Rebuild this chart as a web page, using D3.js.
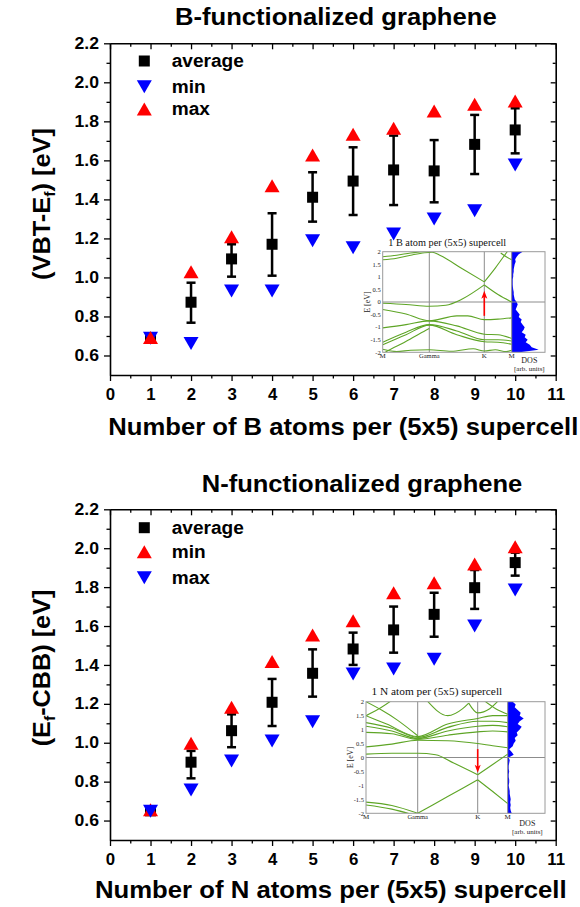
<!DOCTYPE html>
<html><head><meta charset="utf-8">
<script src="https://cdn.jsdelivr.net/npm/d3@7"></script>
<style>body{margin:0;background:#fff} svg{display:block}</style>
</head><body><svg id="c" width="580" height="907"></svg>
<script>
// ---------------- data ----------------
const atoms = [1,2,3,4,5,6,7,8,9,10];
const xTickVals = [0,1,2,3,4,5,6,7,8,9,10,11];
const yTickVals = [0.6,0.8,1.0,1.2,1.4,1.6,1.8,2.0,2.2];

const bAvg   = [0.69,0.873,1.095,1.170,1.411,1.494,1.551,1.546,1.682,1.756];
const bErrLo = [0.69,0.768,1.004,1.009,1.286,1.320,1.371,1.385,1.530,1.636];
const bErrHi = [0.69,0.973,1.170,1.329,1.539,1.667,1.727,1.704,1.833,1.867];
const bMin   = [0.688,0.662,0.930,0.930,1.188,1.152,1.223,1.300,1.342,1.576];
const bMax   = [0.692,1.029,1.209,1.470,1.628,1.734,1.764,1.853,1.887,1.904];

const nAvg   = [0.65,0.900,1.062,1.208,1.357,1.482,1.580,1.660,1.797,1.926];
const nErrLo = [0.65,0.817,0.977,1.086,1.237,1.400,1.463,1.545,1.688,1.859];
const nErrHi = [0.65,0.958,1.146,1.328,1.480,1.566,1.700,1.771,1.888,1.977];
const nMin   = [0.655,0.997,1.182,1.417,1.554,1.627,1.771,1.823,1.919,2.008];
const nMax   = [0.648,0.757,0.906,1.009,1.108,1.353,1.379,1.429,1.600,1.785];

// inset: band structures, path M(0) - Gamma(1) - K(2) - M(3), energies in eV
const kLabels = ["M","Gamma","K","M"];
const eTicks = [-2,-1.5,-1,-0.5,0,0.5,1,1.5,2];
const bBands = [
  [[0,1.80],[0.3,1.86],[0.6,1.95],[1,2.03],[1.1,2.05]],
  [[0,1.68],[0.3,1.74],[0.6,1.86],[0.9,1.96],[1.05,1.98],[1.2,1.85],[1.6,1.32],[2,0.80]],
  [[2,0.80],[2.4,1.35],[2.8,1.95],[2.9,2.1]],
  [[0,-0.05],[0.5,-0.10],[1,-0.17],[1.3,-0.13],[1.6,0.12],[2,0.68]],
  [[2,0.68],[2.5,0.30],[3,0.0]],
  [[0,-0.30],[0.5,-0.48],[1,-0.75],[1.5,-0.55],[1.7,-0.55],[2,-0.70],[2.5,-0.68],[3,-0.63]],
  [[0,-1.03],[0.5,-0.90],[1,-0.75],[1.5,-0.95],[2,-1.28],[2.5,-1.30],[3,-1.45]],
  [[0,-1.60],[0.5,-1.20],[1,-0.90],[1.5,-1.15],[2,-1.50],[2.5,-1.50],[3,-1.55]],
  [[0,-1.70],[0.5,-1.30],[1,-0.92],[1.5,-1.30],[2,-1.58],[2.5,-1.60],[3,-1.68]],
  [[0,-1.88],[0.3,-1.97],[0.6,-1.92],[1,-1.90],[1.4,-1.96],[1.8,-1.86],[2,-1.95],[2.4,-1.90],[2.8,-1.97],[3,-1.92]],
  [[0,-2.05],[0.2,-1.85],[0.45,-1.62],[0.8,-1.25],[1,-1.05]],
  [[2.6,1.95],[2.8,1.8],[3,1.68]]
];
const nBands = [
  [[0,0.12],[0.5,0.15],[1,0.15],[1.3,0.10],[1.6,-0.20],[2,-0.62]],
  [[2,-0.62],[2.5,-0.25],[3,0.12]],
  [[1,-2.0],[1.5,-1.4],[2,-0.80]],
  [[2,-0.80],[2.5,-1.22],[3,-1.65]],
  [[0,-1.60],[0.5,-1.72],[1,-2.0]],
  [[0,-1.70],[0.5,-1.85],[0.9,-2.05]],
  [[0,0.38],[0.5,0.48],[1,0.62],[1.5,0.60],[2,0.50],[2.5,0.42],[3,0.35]],
  [[0,0.90],[0.5,0.85],[1,0.65],[1.5,0.80],[2,0.92],[2.5,0.95],[3,0.92]],
  [[0,1.12],[0.5,0.95],[1,0.68],[1.5,0.95],[2,1.12],[2.5,1.15],[3,1.10]],
  [[0,1.25],[0.5,1.05],[1,0.72],[1.5,1.08],[2,1.30],[2.5,1.30],[3,1.25]],
  [[0,1.50],[0.4,1.20],[1,0.75],[1.5,1.20],[2,1.40],[2.5,1.50],[3,1.50]],
  [[0,1.50],[0.3,1.80],[0.5,2.05]],
  [[0,2.0],[0.3,1.70],[0.6,1.35],[1,0.78]],
  [[1.15,2.05],[1.5,1.50],[1.75,1.75],[1.85,1.95]],
  [[1.85,1.95],[2,1.60],[2.4,1.75],[2.7,2.05]],
  [[2.2,2.05],[2.6,1.75],[3,1.55]]
];
const dosE = [2,1.9,1.8,1.7,1.6,1.5,1.4,1.3,1.2,1.1,1,0.9,0.8,0.7,0.6,0.5,0.4,0.3,0.2,0.1,0,
  -0.1,-0.2,-0.3,-0.4,-0.5,-0.6,-0.7,-0.8,-0.9,-1,-1.1,-1.2,-1.3,-1.4,-1.5,-1.6,-1.7,-1.8,-1.9,-2];
const bDos = [11,7,5,3.5,4,3,2.5,2,2,1.5,1.5,1,1,1,1.2,1.5,2,2,2.5,3,5,
  6,5,4,6,8,7,10,9,11,13,12,10,14,13,16,14,18,20,27,8];
const nDos = [5,8,7,10,13,12,16,12,10,14,12,9,10,7,8,6,5,1.5,4,6,1,
  2,1.5,1,1,1.5,1,1,1.5,1.5,1,1.5,2,2,2.5,3,2.5,3,2.5,3,4];
const bArrow = [-0.55,0.45];
const nArrow = [0.30,-0.55];

// ---------------- drawing ----------------
const svg = d3.select("#c");
const FONT = "'Liberation Sans', Arial, Helvetica, sans-serif";
const SERIF = "'Liberation Serif', 'Times New Roman', serif";
const RED = "#ff0000", BLUE = "#0000ff";

function stretch(sel, f){
  sel.each(function(){
    const L = this.getComputedTextLength();
    d3.select(this).attr("textLength", L*f).attr("lengthAdjust","spacingAndGlyphs");
  });
}
function fit(sel, w){ sel.attr("textLength", w).attr("lengthAdjust","spacingAndGlyphs"); }

function upTri(cx, cy, w, h){ return `M${cx},${cy-h/2}L${cx+w/2},${cy+h/2}L${cx-w/2},${cy+h/2}Z`; }
function downTri(cx, cy, w, h){ return `M${cx-w/2},${cy-h/2}L${cx+w/2},${cy-h/2}L${cx},${cy+h/2}Z`; }

function panel(c){
  const x = d3.scaleLinear().domain([0,11]).range([c.left, c.right]);
  const y = d3.scaleLinear().domain([0.5,2.2]).range([c.bottom, c.top]);
  const g = svg.append("g");
  const minorY = d3.range(0.7, 2.15, 0.2);
  const minorX = d3.range(0.5, 11, 1);

  const styleAxis = (ax) => {
    ax.selectAll("path.domain").attr("stroke","#000").attr("stroke-width",1.6);
    ax.selectAll(".tick line").attr("stroke","#000").attr("stroke-width",1.3);
    ax.selectAll("text").attr("fill","#000").attr("font-family",FONT).attr("font-weight","bold").attr("font-size",16);
  };
  // left
  const la = g.append("g").attr("transform",`translate(${c.left},0)`)
    .call(d3.axisLeft(y).tickValues(yTickVals).tickSize(6).tickSizeOuter(0).tickPadding(5).tickFormat(d3.format(".1f")));
  styleAxis(la); stretch(la.selectAll("text"), 1.1);
  const lm = g.append("g").attr("transform",`translate(${c.left},0)`)
    .call(d3.axisLeft(y).tickValues(minorY).tickSize(3.5).tickFormat(""));
  lm.select(".domain").remove(); styleAxis(lm);
  // right
  const ra = g.append("g").attr("transform",`translate(${c.right},0)`)
    .call(d3.axisRight(y).tickValues(yTickVals).tickSize(-5).tickSizeOuter(0).tickFormat(""));
  styleAxis(ra);
  const rm = g.append("g").attr("transform",`translate(${c.right},0)`)
    .call(d3.axisRight(y).tickValues(minorY).tickSize(-3).tickFormat(""));
  rm.select(".domain").remove(); styleAxis(rm);
  // top
  const ta = g.append("g").attr("transform",`translate(0,${c.top})`)
    .call(d3.axisTop(x).tickValues(xTickVals).tickSize(-6).tickSizeOuter(0).tickFormat(""));
  styleAxis(ta);
  const tm = g.append("g").attr("transform",`translate(0,${c.top})`)
    .call(d3.axisTop(x).tickValues(minorX).tickSize(-3.5).tickFormat(""));
  tm.select(".domain").remove(); styleAxis(tm);
  // bottom
  const ba = g.append("g").attr("transform",`translate(0,${c.bottom})`)
    .call(d3.axisBottom(x).tickValues(xTickVals).tickSize(6).tickSizeOuter(0).tickPadding(7.5).tickFormat(d3.format("d")));
  styleAxis(ba); stretch(ba.selectAll("text"), 1.05);
  const bm = g.append("g").attr("transform",`translate(0,${c.bottom})`)
    .call(d3.axisBottom(x).tickValues(minorX).tickSize(3.5).tickFormat(""));
  bm.select(".domain").remove(); styleAxis(bm);

  // title
  fit(g.append("text").attr("x",c.titleX).attr("y",c.titleY).attr("text-anchor","middle")
    .attr("font-family",FONT).attr("font-weight","bold").attr("font-size",23).text(c.title), c.titleW);
  // x title
  fit(g.append("text").attr("x",c.xTitleX).attr("y",c.xTitleY).attr("text-anchor","middle")
    .attr("font-family",FONT).attr("font-weight","bold").attr("font-size",24).text(c.xTitle), c.xTitleW);
  // y title
  const yt = g.append("text").attr("transform",`translate(50,${c.yTitleY}) rotate(-90)`).attr("text-anchor","middle")
    .attr("font-family",FONT).attr("font-weight","bold").attr("font-size",24);
  c.yTitle.forEach(p => {
    const ts = yt.append("tspan").text(p.t);
    if (p.sub) ts.attr("font-size",15).attr("dy","0.3em");
    if (p.after) ts.attr("dy","-0.2em");
  });
  fit(yt, c.yTitleW);

  // error bars
  const eb = g.append("g").attr("stroke","#000").attr("stroke-width",2.5);
  atoms.forEach((a,i) => {
    const cx = x(a), y0 = y(c.lo[i]), y1 = y(c.hi[i]);
    if (Math.abs(y0-y1) < 1) return;
    eb.append("line").attr("x1",cx).attr("x2",cx).attr("y1",y0).attr("y2",y1);
    eb.append("line").attr("x1",cx-4.5).attr("x2",cx+4.5).attr("y1",y0).attr("y2",y0);
    eb.append("line").attr("x1",cx-4.5).attr("x2",cx+4.5).attr("y1",y1).attr("y2",y1);
  });
  // markers
  const drawSeries = (s) => {
    if (s.shape === "sq") {
      g.append("g").selectAll("rect").data(s.vals).join("rect")
        .attr("x",(d,i)=>x(atoms[i])-5.5).attr("y",d=>y(d)-5.5).attr("width",11).attr("height",11).attr("fill","#000");
    } else {
      g.append("g").selectAll("path").data(s.vals).join("path")
        .attr("d",(d,i)=> s.shape==="up" ? upTri(x(atoms[i]),y(d),15,13) : downTri(x(atoms[i]),y(d),15,13))
        .attr("fill",s.color);
    }
  };
  c.series.forEach(drawSeries);

  // legend
  const lg = g.append("g");
  c.series.forEach((s,i) => {
    const ly = c.legY + c.legDy[i];
    const lx = 144.3;
    if (s.shape==="sq") lg.append("rect").attr("x",lx-5.5).attr("y",ly-5.5).attr("width",11).attr("height",11).attr("fill","#000");
    else lg.append("path").attr("d", s.shape==="up" ? upTri(lx,ly,15,13) : downTri(lx,ly,15,13)).attr("fill",s.color);
    const t = lg.append("text").attr("x",171.7).attr("y",ly).attr("dy","0.36em")
      .attr("font-family",FONT).attr("font-weight","bold").attr("font-size",18).text(s.name);
    stretch(t, 1.06);
  });
}

function inset(c){
  const g = svg.append("g");
  const kx = d3.scaleLinear().domain([0,1,2,3]).range(c.kx);
  const ey = d3.scaleLinear().domain([-2,2]).range([c.B, c.T]);
  const dx = d3.scaleLinear().domain([0,c.dosMax]).range([c.kx[3], c.R]);
  g.append("rect").attr("x",c.L).attr("y",c.T).attr("width",c.R-c.L).attr("height",c.B-c.T).attr("fill","#fff");
  const cid = c.id + "-clip";
  svg.append("clipPath").attr("id",cid).append("rect")
    .attr("x",c.L).attr("y",c.T).attr("width",c.kx[3]-c.L).attr("height",c.B-c.T);
  // DOS
  const area = d3.area().y(d=>ey(d[0])).x0(dx(0)).x1(d=>dx(d[1])).curve(d3.curveLinear);
  g.append("path").datum(dosE.map((e,i)=>[e,c.dos[i]])).attr("d",area).attr("fill",BLUE);
  // grid
  g.append("line").attr("x1",c.L).attr("x2",c.R).attr("y1",ey(0)).attr("y2",ey(0)).attr("stroke","#8c8c8c").attr("stroke-width",1);
  [1,2,3].forEach(k => g.append("line").attr("x1",kx(k)).attr("x2",kx(k)).attr("y1",c.T).attr("y2",c.B)
    .attr("stroke","#8c8c8c").attr("stroke-width",1));
  // bands
  const line = d3.line().x(d=>kx(d[0])).y(d=>ey(d[1])).curve(d3.curveMonotoneX);
  g.append("g").attr("clip-path",`url(#${cid})`).selectAll("path").data(c.bands).join("path")
    .attr("d",line).attr("fill","none").attr("stroke","#5ea526").attr("stroke-width",1.1);
  // frame
  g.append("rect").attr("x",c.L).attr("y",c.T).attr("width",c.R-c.L).attr("height",c.B-c.T)
    .attr("fill","none").attr("stroke","#9a9a9a").attr("stroke-width",1);
  // arrow
  const ax = kx(2), a0 = ey(c.arrow[0]), a1 = ey(c.arrow[1]);
  const dir = a1 < a0 ? 1 : -1;
  g.append("line").attr("x1",ax).attr("x2",ax).attr("y1",a0).attr("y2",a1 + dir*5).attr("stroke",RED).attr("stroke-width",1.6);
  g.append("path").attr("d",`M${ax},${a1}L${ax+3},${a1+dir*8}L${ax},${a1+dir*6}L${ax-3},${a1+dir*8}Z`).attr("fill",RED);
  // energy tick labels
  const tl = g.append("g").attr("font-family",SERIF).attr("font-size",6.5).attr("fill","#222");
  eTicks.forEach(e => tl.append("text").attr("x",c.L-2).attr("y",ey(e)).attr("dy","0.35em").attr("text-anchor","end").text(String(e)));
  tl.append("text").attr("transform",`translate(${c.L-13},${ey(0)}) rotate(-90)`).attr("text-anchor","middle")
    .attr("font-size",8).text("E [eV]");
  kLabels.forEach((lab,i) => tl.append("text").attr("x",kx(i)).attr("y",c.B+6).attr("text-anchor","middle")
    .attr("font-size",lab==="Gamma"?6.5:7).text(lab));
  const dc = (c.kx[3]+c.R)/2 + 1;
  tl.append("text").attr("x",dc).attr("y",c.dosY).attr("text-anchor","middle").attr("font-size",8).text("DOS");
  tl.append("text").attr("x",dc).attr("y",c.dosY+8).attr("text-anchor","middle").attr("font-size",7).text("[arb. units]");
  // title
  fit(g.append("text").attr("x",(c.L+c.kx[3])/2).attr("y",c.titleY).attr("text-anchor","middle")
    .attr("font-family",SERIF).attr("font-size",11).attr("fill","#111").text(c.title), c.titleW);
}

panel({
  left:110, right:555.7, top:43.3, bottom:375,
  title:"B-functionalized graphene", titleX:335.8, titleY:25, titleW:321.7,
  xTitle:"Number of B atoms per (5x5) supercell", xTitleX:343.3, xTitleY:435, xTitleW:470,
  yTitle:[{t:"(VBT-E"},{t:"f",sub:true},{t:") [eV]",after:true}], yTitleY:204, yTitleW:152,
  lo:bErrLo, hi:bErrHi,
  series:[{name:"average",shape:"sq",vals:bAvg},{name:"min",shape:"down",color:BLUE,vals:bMin},{name:"max",shape:"up",color:RED,vals:bMax}],
  legY:61, legDy:[0,25.7,48]
});
inset({
  id:"ib", L:382.7, R:545, T:251.7, B:352.3, kx:[382.7,429.3,484.3,511.7], dosMax:33.3,
  bands:bBands, dos:bDos, arrow:bArrow, dosY:363.3,
  title:"1 B atom per (5x5) supercell", titleY:245.7, titleW:118
});

panel({
  left:110, right:555.7, top:509.3, bottom:840,
  title:"N-functionalized graphene", titleX:362, titleY:491.7, titleW:320.6,
  xTitle:"Number of N atoms per (5x5) supercell", xTitleX:330.8, xTitleY:898.3, xTitleW:471.7,
  yTitle:[{t:"(E"},{t:"f",sub:true},{t:"-CBB) [eV]",after:true}], yTitleY:668, yTitleW:156.7,
  lo:nErrLo, hi:nErrHi,
  series:[{name:"average",shape:"sq",vals:nAvg},{name:"min",shape:"up",color:RED,vals:nMin},{name:"max",shape:"down",color:BLUE,vals:nMax}],
  legY:527.7, legDy:[0,24,50]
});
inset({
  id:"in", L:366, R:545, T:701.7, B:813.3, kx:[366,417.7,477.7,507.7], dosMax:37.3,
  bands:nBands, dos:nDos, arrow:nArrow, dosY:826,
  title:"1 N atom per (5x5) supercell", titleY:695, titleW:130.7
});
</script>
</body></html>
